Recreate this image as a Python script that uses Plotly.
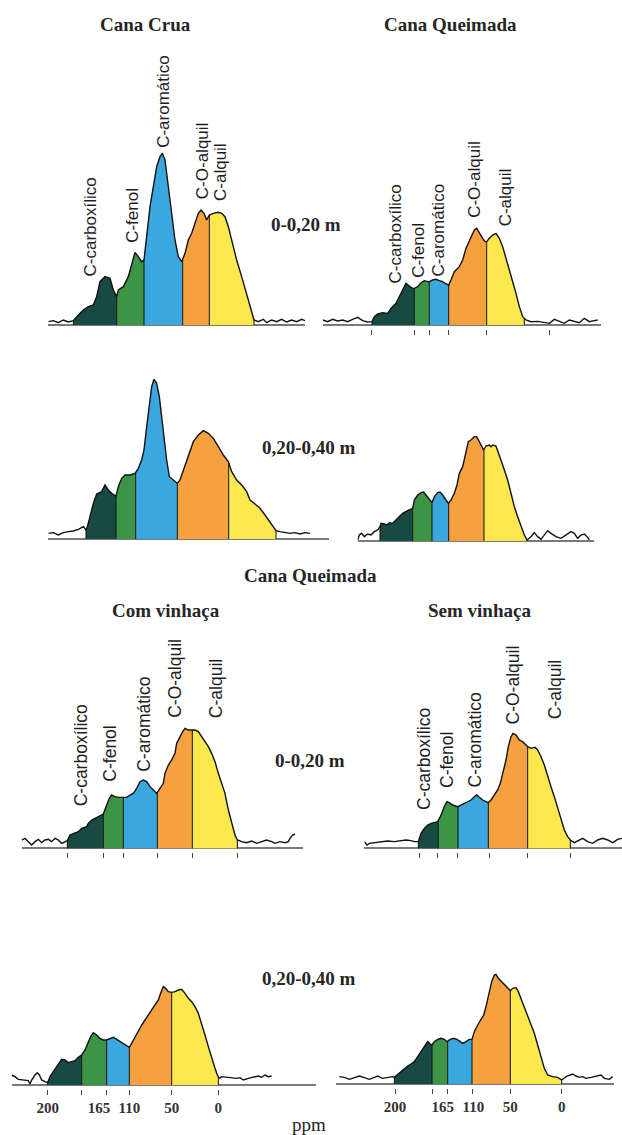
import numpy as np
import plotly.graph_objects as go

# ---------------- data ----------------
REGION_NAMES = ["C-carboxílico", "C-fenol", "C-aromático", "C-O-alquil", "C-alquil"]
REGION_COLORS = ["#184a44", "#3c9445", "#3aa7df", "#f6a140", "#fbe84c"]
PPM_LABELS = ["200", "165", "110", "50", "0"]

# Cana Crua 0-0,20 m
crua_sup_shift = [145,160,175,190,205,220,235,250,265,280,290,300,315,330,340,350,355,370,385,395,405,415,425,432,
                  440,450,460,470,480,487,495,505,515,525,535,545,555,565,575,585,595,603,612,620,628,640,655,665,675,
                  685,695,710,725,740,750,762,775,790,800,815,830,845,860,875,890,905,915]
crua_sup_signal = [10,13,7,15,9,13,30,45,55,60,85,130,145,140,105,85,105,115,145,185,218,205,190,195,
                   275,355,415,475,505,515,495,415,325,255,205,190,215,255,275,305,335,345,335,315,330,335,338,335,325,
                   295,255,195,145,95,55,15,10,17,7,15,10,17,9,15,10,17,13]
crua_sup_bounds = [220, 350, 432, 548, 628, 762]

# Cana Queimada 0-0,20 m
queim_sup_shift = [35,50,65,80,95,110,125,140,155,170,183,190,200,215,230,240,255,265,275,285,295,305,310,320,330,340,
                   350,355,365,375,385,395,405,413,420,430,445,455,465,478,490,497,505,515,522,527,535,545,555,565,575,
                   585,595,605,615,625,635,645,660,680,700,715,730,745,760,775,790,805,820,835,850,860]
queim_sup_signal = [15,10,17,12,15,10,17,23,13,9,10,25,33,37,35,50,65,85,105,125,117,110,110,115,127,133,
                    130,130,135,137,133,130,123,120,135,160,175,195,230,260,285,290,275,260,250,250,260,270,275,260,235,
                    200,165,135,95,55,25,15,10,11,7,5,17,10,5,15,10,7,20,10,13,15]
queim_sup_bounds = [183, 310, 355, 413, 527, 640]

# Cana Crua 0,20-0,40 m
crua_sub_shift = [145,160,175,190,205,220,235,250,258,262,270,280,290,305,315,325,335,345,348,355,365,375,390,405,
                  415,425,432,440,448,455,462,470,478,485,492,500,508,520,532,540,550,560,570,580,595,610,625,640,655,
                  670,685,695,710,725,740,750,765,780,795,810,820,828,840,855,870,885,900,915,930]
crua_sub_signal = [17,19,12,19,22,24,29,37,27,37,67,107,135,142,162,147,137,129,129,157,182,192,192,197,
                   212,237,267,337,407,457,479,467,427,367,297,237,187,177,167,177,207,237,267,292,312,325,317,302,277,
                   252,232,202,177,162,142,117,105,92,72,52,37,25,22,19,17,19,15,19,17]
crua_sub_bounds = [258, 348, 407, 532, 686, 828]

# Cana Queimada 0,20-0,40 m
queim_sub_shift = [140,145,152,160,170,180,190,200,207,210,220,228,235,245,255,265,275,290,300,305,310,320,330,338,
                   345,355,363,370,380,387,395,405,412,420,430,438,445,455,465,472,480,490,497,505,512,518,525,535,540,
                   545,555,565,575,590,600,610,620,630,640,648,660,670,680,690,700,710,720,735,750,765,780,790,800,810,
                   820,830,835]
queim_sub_signal = [3,18,23,13,21,18,28,33,43,53,51,48,55,53,63,73,83,91,95,98,123,138,145,147,
                    138,125,115,133,145,147,138,123,113,123,143,168,203,223,263,298,303,313,313,298,283,273,285,288,283,
                    288,285,258,228,183,143,103,73,43,18,3,13,25,13,5,18,31,23,13,8,18,28,23,8,18,
                    21,11,3]
queim_sub_bounds = [207, 305, 363, 413, 519, 648]

# Com vinhaça 0-0,20 m
com_sup_shift = [65,75,85,95,105,115,125,135,145,155,165,175,185,195,202,210,220,235,245,260,265,275,285,295,305,310,
                 318,328,335,345,355,368,380,390,400,410,420,430,440,450,460,470,480,490,495,505,515,525,530,540,548,
                 555,565,575,585,595,605,615,625,635,645,655,665,675,685,695,705,712,725,740,755,770,785,800,815,825,
                 840,855,865,870,878,885]
com_sup_signal = [25,30,20,10,20,27,17,25,27,20,30,25,15,20,23,40,45,50,60,65,75,85,90,95,100,103,
                  125,150,160,155,153,153,153,160,165,180,200,205,200,185,175,165,180,195,225,250,265,285,315,335,350,
                  360,355,355,355,350,335,320,305,285,260,225,195,165,115,75,40,25,20,17,22,15,20,25,20,15,
                  20,17,20,30,40,43]
com_sup_bounds = [202, 310, 370, 472, 577, 712]

# Sem vinhaça 0-0,20 m
sem_sup_shift = [160,168,175,190,210,230,250,270,285,300,310,322,330,340,350,360,370,380,388,395,402,408,415,425,432,
                 440,450,460,470,480,490,497,505,515,525,532,540,550,560,568,575,585,592,600,606,615,625,635,645,650,
                 660,672,680,690,700,710,720,730,740,750,760,770,778,790,805,815,830,845,860,875,890,905,920,933]
sem_sup_signal = [20,10,15,17,20,22,20,22,25,23,20,20,45,60,70,75,77,80,95,115,130,140,137,130,127,
                  125,130,135,140,145,155,160,153,145,140,137,145,160,175,195,225,265,305,335,345,340,325,320,310,305,
                  300,303,295,275,250,215,185,155,120,85,55,35,25,17,25,30,20,15,25,30,25,17,27,30]
sem_sup_bounds = [322, 382, 441, 532, 650, 778]

# Com vinhaça 0,20-0,40 m
com_sub_shift = [35,45,55,70,85,90,95,105,112,118,125,135,143,150,160,170,178,185,195,205,215,225,235,245,255,265,
                 272,280,290,300,310,320,330,340,350,360,370,380,388,395,405,415,425,435,445,455,465,475,482,490,497,
                 505,515,525,535,545,555,565,575,585,595,605,615,625,635,645,652,658,665,680,695,710,720,730,745,755,
                 765,775,785,795,805,815]
com_sub_signal = [30,25,17,15,13,3,15,30,37,30,15,10,7,25,40,55,70,77,75,67,70,73,83,90,105,130,
                  145,157,150,140,135,135,140,143,137,130,123,117,113,125,145,165,180,195,210,225,240,255,275,295,290,
                  280,278,280,285,287,275,260,250,235,215,185,150,115,80,50,30,20,25,23,22,20,22,15,20,23,
                  25,27,23,30,25,27]
com_sub_bounds = [143, 245, 320, 388, 515, 655]

# Sem vinhaça 0,20-0,40 m
sem_sub_shift = [85,100,115,130,145,160,175,190,200,215,230,245,250,258,270,280,290,300,310,320,330,340,350,358,363,
                 370,380,390,400,408,418,428,438,448,455,465,475,483,490,500,510,518,525,530,537,542,550,555,562,572,
                 582,592,598,605,615,622,630,640,650,660,670,680,690,700,710,725,740,752,765,775,785,795,805,815,825,
                 840,855,870,880,895,905]
sem_sub_signal = [22,20,14,20,24,19,14,20,24,17,20,22,20,27,37,47,54,60,67,82,97,114,127,120,117,
                  127,134,137,134,127,134,137,134,127,122,127,134,134,157,177,192,207,232,257,282,307,327,329,317,307,
                  297,284,280,287,289,277,257,232,207,182,152,117,82,47,27,22,20,12,22,27,30,24,20,22,17,
                  20,24,27,17,14,22]
sem_sub_bounds = [250, 363, 410, 483, 598, 752]

# ---------------- layout of the panels ----------------
W_PX, H_PX = 622, 1135
S = 3.0          # data units per pixel
GAP = 12         # gap (data units) between baseline and tick marks
YTOP = 600

panels = [
    dict(shift=crua_sup_shift, signal=crua_sup_signal, bounds=crua_sup_bounds, ox=0, oy=0, base=975,
         xr=(145, 915), ticks=None, fs=17,
         labels=[(272, 140), (397, 240), (490, 525), (606, 370), (662, 365)]),
    dict(shift=queim_sup_shift, signal=queim_sup_signal, bounds=queim_sup_bounds, ox=311, oy=0, base=975,
         xr=(35, 870), ticks=[183, 310, 355, 413, 527, 715], fs=17,
         labels=[(255, 120), (322, 135), (383, 140), (490, 315), (582, 290)]),
    dict(shift=crua_sub_shift, signal=crua_sub_signal, bounds=crua_sub_bounds, ox=0, oy=340, base=597,
         xr=(145, 987), ticks=None, labels=None),
    dict(shift=queim_sub_shift, signal=queim_sub_signal, bounds=queim_sub_bounds, ox=311, oy=340, base=603,
         xr=(140, 850), ticks=None, labels=None),
    dict(shift=com_sup_shift, signal=com_sup_signal, bounds=com_sup_bounds, ox=0, oy=560, base=865,
         xr=(65, 910), ticks=[203, 310, 370, 472, 577, 712], fs=17.5,
         labels=[(243, 120), (331, 195), (432, 225), (523, 385), (647, 385)]),
    dict(shift=sem_sup_shift, signal=sem_sup_signal, bounds=sem_sup_bounds, ox=311, oy=560, base=865,
         xr=(160, 933), ticks=[325, 380, 440, 535, 650, 778], fs=17.5,
         labels=[(337, 110), (408, 175), (492, 175), (607, 365), (732, 380)]),
    dict(shift=com_sub_shift, signal=com_sub_signal, bounds=com_sub_bounds, ox=0, oy=940, base=435,
         xr=(35, 948), ticks=[143, 245, 320, 388, 515, 655], labels=None,
         ppm=[143, 297, 388, 515, 655]),
    dict(shift=sem_sub_shift, signal=sem_sub_signal, bounds=sem_sub_bounds, ox=311, oy=940, base=432,
         xr=(75, 910), ticks=[252, 363, 410, 483, 598, 752], labels=None,
         ppm=[252, 395, 487, 598, 752]),
]

SANS = "Liberation Sans, Arial, sans-serif"
SERIF = "Liberation Serif, Times New Roman, serif"

fig = go.Figure()
layout = dict(width=W_PX, height=H_PX, margin=dict(l=0, r=0, t=0, b=0),
              paper_bgcolor="white", plot_bgcolor="rgba(0,0,0,0)", showlegend=False)
annotations = []
extra_axis = 9

for i, p in enumerate(panels, start=1):
    sfx = "" if i == 1 else str(i)
    xn, yn = "x" + sfx, "y" + sfx
    shift = np.array(p["shift"], float)
    sig = np.array(p["signal"], float)
    b = p["bounds"]
    for k in range(5):
        lo, hi = b[k], b[k + 1]
        m = (shift > lo) & (shift < hi)
        xs = [lo, lo] + shift[m].tolist() + [hi, hi]
        ys = [0, float(np.interp(lo, shift, sig))] + sig[m].tolist() + [float(np.interp(hi, shift, sig)), 0]
        fig.add_trace(go.Scatter(x=xs, y=ys, mode="lines", fill="toself", fillcolor=REGION_COLORS[k],
                                 line=dict(width=0), xaxis=xn, yaxis=yn, hoverinfo="skip",
                                 name=REGION_NAMES[k]))
    vx, vy = [], []
    for bb in b:
        vx += [bb, bb, None]
        vy += [0, float(np.interp(bb, shift, sig)), None]
    fig.add_trace(go.Scatter(x=vx, y=vy, mode="lines", line=dict(color="#111", width=1),
                             xaxis=xn, yaxis=yn, hoverinfo="skip"))
    fig.add_trace(go.Scatter(x=shift, y=sig, mode="lines", line=dict(color="#111", width=1.4),
                             xaxis=xn, yaxis=yn, hoverinfo="skip"))

    ox, oy, base = p["ox"], p["oy"], p["base"]
    xl, xr = p["xr"]
    xdom = [(ox + xl / S) / W_PX, min(1.0, (ox + xr / S) / W_PX)]
    ydom = [1 - (oy + (base + GAP) / S) / H_PX, 1 - (oy + (base - YTOP) / S) / H_PX]
    has_ticks = p["ticks"] is not None
    layout["xaxis" + sfx] = dict(domain=xdom, range=[xl, xr], anchor=yn, showgrid=False, zeroline=False,
                                 showline=False, showticklabels=False,
                                 ticks="outside" if has_ticks else "",
                                 tickmode="array", tickvals=p["ticks"] if has_ticks else [],
                                 ticklen=5, tickwidth=1, tickcolor="#444", fixedrange=True)
    layout["yaxis" + sfx] = dict(domain=ydom, range=[-GAP, YTOP], anchor=xn, showgrid=False,
                                 zeroline=True, zerolinecolor="#7a7a7a", zerolinewidth=2,
                                 showticklabels=False, ticks="", showline=False, fixedrange=True)

    if p.get("labels"):
        for name, (lx, ly) in zip(REGION_NAMES, p["labels"]):
            annotations.append(dict(text=name, x=lx, y=ly, xref=xn, yref=yn, textangle=-90,
                                    xanchor="center", yanchor="bottom", showarrow=False,
                                    font=dict(family=SANS, size=p["fs"], color="#1e1e1e")))
    if p.get("ppm"):
        ax_name = "xaxis" + str(extra_axis)
        layout[ax_name] = dict(overlaying=xn, anchor=yn, range=[xl, xr], showgrid=False, zeroline=False,
                               showline=False, ticks="", tickmode="array", tickvals=p["ppm"],
                               ticktext=PPM_LABELS, ticklabelstandoff=8, fixedrange=True,
                               tickfont=dict(family=SERIF, size=15, color="#333", weight="bold"))
        fig.add_trace(go.Scatter(x=[p["ppm"][0]], y=[0], mode="markers", marker=dict(opacity=0),
                                 xaxis="x" + str(extra_axis), yaxis=yn, hoverinfo="skip"))
        extra_axis += 1

# ---------------- texts ----------------
texts = [
    ("Cana Crua", 145, 25, True, 19),
    ("Cana Queimada", 450, 25, True, 19),
    ("0-0,20 m", 306, 225, True, 19),
    ("0,20-0,40 m", 309, 447, True, 19),
    ("Cana Queimada", 310, 575, True, 19),
    ("Com vinhaça", 166, 610, True, 19),
    ("Sem vinhaça", 480, 610, True, 19),
    ("0-0,20 m", 310, 760, True, 19),
    ("0,20-0,40 m", 309, 978, True, 19),
    ("ppm", 309, 1124, False, 19),
]
for t, px, py, bold, size in texts:
    annotations.append(dict(text=t, x=px / W_PX, y=1 - py / H_PX, xref="paper", yref="paper",
                            xanchor="center", yanchor="middle", showarrow=False,
                            font=dict(family=SERIF, size=size, color="#262626",
                                      weight="bold" if bold else "normal")))

layout["annotations"] = annotations
fig.update_layout(**layout)
fig.write_html("out.html", config={"displayModeBar": False},
               post_script="document.body.style.margin='0';document.body.style.overflow='hidden';")
